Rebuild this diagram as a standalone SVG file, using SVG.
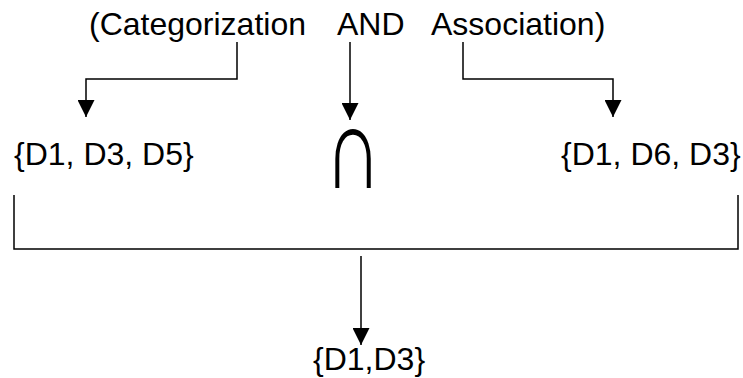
<svg xmlns="http://www.w3.org/2000/svg" width="743" height="378" viewBox="0 0 743 378">
  <style>
    .lbl { font-family: "Liberation Sans", Arial, sans-serif; font-size: 32px; fill: #000; }
    .sym { font-family: "Liberation Sans", Arial, sans-serif; font-size: 78px; fill: #000; }
    .wire { fill: none; stroke: #000; stroke-width: 1.5; }
  </style>
  <defs>
    <marker id="arrow" viewBox="0 0 17 17" refX="17" refY="8.5" markerWidth="17" markerHeight="17" markerUnits="userSpaceOnUse" orient="auto">
      <path d="M0,0 L17,8.5 L0,17 Z" fill="#000"/>
    </marker>
  </defs>
  <rect width="743" height="378" fill="#fff"/>

  <!-- query terms -->
  <g id="categorization"><text class="lbl" x="89" y="35">(Categorization</text></g>
  <g id="and"><text class="lbl" x="337" y="35">AND</text></g>
  <g id="association"><text class="lbl" x="431" y="35">Association)</text></g>

  <!-- document sets -->
  <g id="set-left"><text class="lbl" x="14" y="165">{D1, D3, D5}</text></g>
  <g id="intersect"><text class="sym" transform="translate(353,188) scale(1.02,1.5)" x="0" y="0" text-anchor="middle">∩</text></g>
  <g id="set-right"><text class="lbl" x="561" y="165">{D1, D6, D3}</text></g>
  <g id="result"><text class="lbl" x="313" y="370">{D1,D3}</text></g>

  <!-- connectors -->
  <g id="connectors">
    <path class="wire" d="M237,42 V79 H86 V117" marker-end="url(#arrow)"/>
    <path class="wire" d="M350,42 V120" marker-end="url(#arrow)"/>
    <path class="wire" d="M463,42 V79 H613 V117" marker-end="url(#arrow)"/>
    <path class="wire" d="M14,195 V249 H738 V195"/>
    <path class="wire" d="M361,256 V345" marker-end="url(#arrow)"/>
  </g>
</svg>
